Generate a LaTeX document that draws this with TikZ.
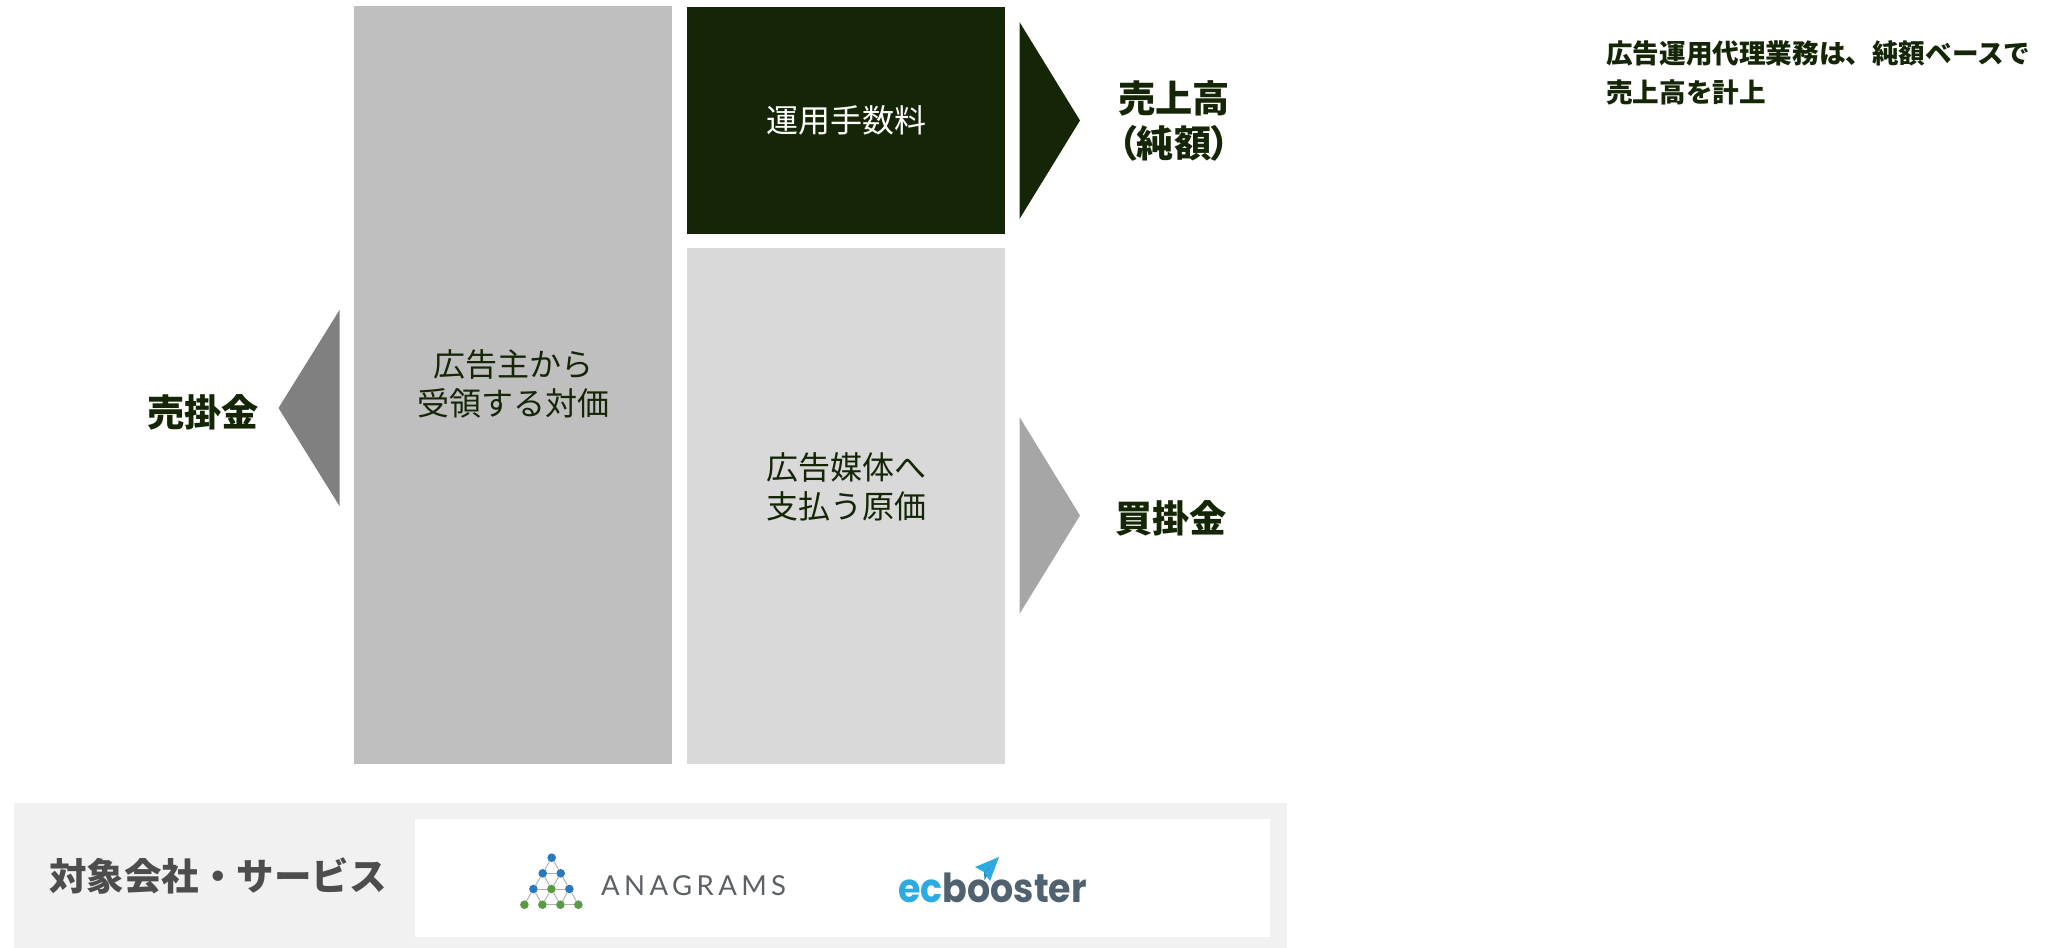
\documentclass[tikz,border=0pt]{standalone}
\usepackage{fontspec}
\setmainfont{Noto Sans CJK JP}
\newfontfamily\palt[RawFeature=+palt]{Noto Sans CJK JP}
\newfontfamily\anafont[LetterSpace=16]{Lato}
\newfontfamily\ecfont[FakeStretch=0.91]{Poppins}
\definecolor{dk}{HTML}{152606}
\definecolor{midg}{HTML}{BFBFBF}
\definecolor{lightg}{HTML}{D9D9D9}
\definecolor{bandg}{HTML}{F1F1F1}
\definecolor{labg}{HTML}{4D4D4D}
\definecolor{blue1}{HTML}{2A79BD}
\definecolor{green1}{HTML}{5A9A45}
\definecolor{ecblue}{HTML}{2BABE2}
\definecolor{ecdark}{HTML}{50616F}
\definecolor{anatext}{HTML}{5C6166}
\tikzset{
  block/.style={rectangle,inner sep=0pt,outer sep=0pt,align=center,font=\fontsize{32}{39.5}\selectfont},
  bigl/.style={inner sep=0pt,align=center,text=dk,font=\bfseries\fontsize{37.2}{45}\selectfont},
  dotb/.style={circle,fill=blue1,minimum size=8.6pt,inner sep=0pt,outer sep=0pt},
  dotg/.style={circle,fill=green1,minimum size=8.6pt,inner sep=0pt,outer sep=0pt},
  lnk/.style={draw=black!32,line width=0.9pt}
}
\begin{document}
\begin{tikzpicture}[x=1pt,y=-1pt]
\useasboundingbox (0,0) rectangle (2057,948);
% blocks
\node[block,fill=midg,minimum width=318pt,minimum height=758pt] (pay) at (513,385) {};
\node[block,text=dk] (payt) at (513,384) {広告主から\\受領する対価};
\node[block,fill=dk,text=white,minimum width=318pt,minimum height=227pt] (fee) at (846,120.5) {運用手数料};
\node[block,fill=lightg,minimum width=318pt,minimum height=516pt] (cost) at (846,506) {};
\node[block,text=dk] (costt) at (846,487) {広告媒体へ\\支払う原価};
% triangles
\fill[dk] (1019.5,22) -- (1080,120.5) -- (1019.5,219) -- cycle;
\fill[black!35] (1019.5,417) -- (1080,515.5) -- (1019.5,614) -- cycle;
\fill[black!50] (339.5,310) -- (278.5,408) -- (339.5,506) -- cycle;
% labels
\node[bigl] (sales) at (1174,120.5) {売上高\\[0pt]{\palt （純額）}};
\node[bigl] (ar) at (203,412) {売掛金};
\node[bigl] (ap) at (1171,518) {買掛金};
\node[inner sep=0pt,align=left,anchor=north west,text=dk,font=\bfseries\fontsize{26.6}{39}\selectfont] (note) at (1606,41) {広告運用代理業務は、純額ベースで\\売上高を計上};
% band
\node[rectangle,fill=bandg,inner sep=0pt,minimum width=1273pt,minimum height=146pt] (band) at (650.5,876) {};
\node[rectangle,fill=white,inner sep=0pt,minimum width=855pt,minimum height=118pt] (inner) at (842.5,878) {};
\node[inner sep=0pt,text=labg,font=\bfseries\fontsize{37.5}{45}\selectfont] (target) at (218,876) {対象会社・サービス};
% Anagrams logo
\foreach \n/\x/\y/\s in {a/551.7/857.7/dotb,b/542.7/873.3/dotb,c/560.7/873.3/dotb,d/533.4/889/dotb,e/551.4/889/dotg,f/569.4/889/dotb,g/524.4/904.7/dotg,h/542.4/904.7/dotg,i/560.4/904.7/dotg,j/578.4/904.7/dotg}
  \node[\s] (\n) at (\x,\y) {};
\foreach \p/\q in {a/b,a/c,b/c,b/d,b/e,c/e,c/f,d/e,e/f,d/g,d/h,e/h,e/i,f/i,f/j,h/i,i/j}
  \draw[lnk] (\p) -- (\q);
\node[inner sep=0pt,anchor=base west,text=anatext,font=\anafont\fontsize{27.5}{30}\selectfont] (anat) at (601,895) {ANAGRAMS};
% ecbooster logo
\node[inner sep=0pt,anchor=base west,font=\ecfont\bfseries\fontsize{40}{45}\selectfont] (ect) at (898,902) {\textcolor{ecblue}{ec}\textcolor{ecdark}{booster}};
\fill[ecblue] (999,857) -- (975,867) -- (984,872) -- cycle;
\fill[ecblue!80!black] (999,857) -- (984,872) -- (984.5,880) -- cycle;
\fill[ecblue] (999,857) -- (984.5,873) -- (990,881) -- cycle;
\end{tikzpicture}
\end{document}
